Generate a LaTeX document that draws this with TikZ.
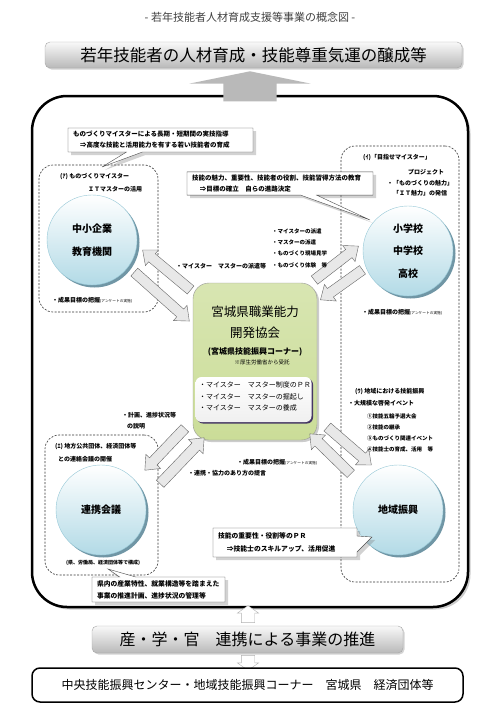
\documentclass[tikz,border=0pt]{standalone}
\usepackage{fontspec}
\setmainfont{Noto Sans CJK JP}
\usetikzlibrary{calc}
\usetikzlibrary{shapes.arrows}
\usetikzlibrary{shapes.callouts}
\usetikzlibrary{shadows}
\usetikzlibrary{positioning}

\definecolor{kyokaigreen}{RGB}{203,221,152}
\definecolor{circblue}{RGB}{178,218,230}
\definecolor{circedge}{RGB}{150,200,215}
\definecolor{circshade}{RGB}{112,150,165}
\definecolor{innerrim}{RGB}{70,55,100}

\begin{document}
\begin{tikzpicture}[x=1pt,y=-1pt,
    bar/.style={draw=gray!70, rounded corners=5pt, top color=gray!5, bottom color=gray!55, inner sep=0, drop shadow={shadow xshift=1.5pt, shadow yshift=-1.5pt, opacity=.35}},
    circ/.style={circle, minimum size=90pt, inner sep=0, draw=circedge, top color=white, bottom color=circblue, align=center, font=\bfseries\fontsize{10}{22.5}\selectfont, drop shadow={shadow xshift=2.5pt, shadow yshift=-2.5pt, fill=circshade, opacity=1}},
    note/.style={rectangle callout, draw=black!70, fill=white, align=left, inner xsep=5pt, inner ysep=3pt, callout pointer width=16pt, font=\bfseries\fontsize{6.5}{11}\selectfont, drop shadow={shadow xshift=3pt, shadow yshift=-3pt, opacity=.35}}]
    \tikzset{zone/.style={draw=black!80, dash pattern=on 2pt off 1.5pt, rounded corners=14pt, line width=.6pt, inner sep=0}}
    \tikzset{lbl/.style={anchor=west, inner sep=0, font=\bfseries\fontsize{6}{7}\selectfont}}
    \tikzset{fat/.style={single arrow, draw=black!60, fill=gray!18, inner xsep=0, inner ysep=5pt, single arrow head extend=5pt, single arrow tip angle=80},
    hollow/.style={single arrow, draw=gray!60, fill=white, inner xsep=0, inner ysep=6.5pt, single arrow head extend=4pt, single arrow tip angle=110}}
    \def\fatarrow#1#2#3{\path let \p1=($(#3)-(#2)$), \n1={atan2(\y1,\x1)}, \n2={veclen(\x1,\y1)} in node[fat, minimum height=\n2, rotate=\n1] (#1) at ($(#2)!0.5!(#3)$) {};}
    \def\survey{・成果目標の把握{\mdseries\fontsize{3.7}{4}\selectfont (アンケートの実施)}}
    \useasboundingbox (0,0) rectangle (500,707);

    \node[text=black!75, font=\fontsize{11}{12}\selectfont] (title) at (250,17) {- 若年技能者人材育成支援等事業の概念図 -};
    \node[bar, minimum width=417pt, minimum height=26pt, font=\fontsize{16.5}{18}\selectfont] (goal) at (253.5,55) {若年技能者の人材育成・技能尊重気運の醸成等};

    % big frame
    \node[draw, line width=2.5pt, rounded corners=35pt, fill=white, minimum width=436pt, minimum height=511pt, drop shadow={shadow xshift=2.5pt, shadow yshift=-2.5pt, opacity=.4}] (frame) at (250,351.5) {};
    \node[single arrow, rotate=90, fill=gray!55, inner xsep=0, inner ysep=26.5pt, single arrow head extend=34pt, single arrow tip angle=157, minimum height=30pt] (rise) at (250,89) {};

    \node[zone, minimum width=119pt, minimum height=147pt] (zoneA) at (98.5,238.5) {};
    \node[zone, minimum width=118pt, minimum height=436pt] (zoneB) at (400,364) {};
    \node[zone, minimum width=113pt, minimum height=140pt] (zoneC) at (101.5,505) {};

    \node[circ] (kigyo) at (92,240) {中小企業\\教育機関};
    \node[circ] (gakko) at (408,251) {小学校\\中学校\\高校};
    \node[circ] (renkei) at (101,510) {連携会議};
    \node[circ] (chiiki) at (398,510) {地域振興};

    % center
    \node[rectangle, rounded corners=16pt, draw=black!40, top color=kyokaigreen!75, bottom color=kyokaigreen, minimum width=124pt, minimum height=157pt, drop shadow={shadow xshift=2pt, shadow yshift=-2pt, opacity=.4}] (kyokai) at (255,361.5) {};
    \node[font=\fontsize{12.5}{14}\selectfont] (kname1) at (255,312) {宮城県職業能力};
    \node[font=\fontsize{12.5}{14}\selectfont] (kname2) at (255,333) {開発協会};
    \node[font=\bfseries\fontsize{8}{9}\selectfont] (kname3) at (255,352) {(宮城県技能振興コーナー)};
    \node[font=\fontsize{5.5}{6}\selectfont] (kname4) at (262,362) {※厚生労働省から受託};
    \node[rectangle, rounded corners=6pt, top color=white, bottom color=gray!12, minimum width=116pt, minimum height=45pt, drop shadow={shadow xshift=1.5pt, shadow yshift=-1.5pt, fill=innerrim, opacity=1}] (tasks) at (253.5,399.5) {};
    \node[anchor=west, inner sep=0, align=left, font=\fontsize{7}{11.5}\selectfont] (tasklist) at (199,396.5) {・マイスター　マスター制度のＰＲ\\・マイスター　マスターの掘起し\\・マイスター　マスターの養成};

    % arrows
    \coordinate (a1s) at (193,292); \coordinate (a1e) at (145,252);
    \coordinate (a2s) at (132,270); \coordinate (a2e) at (187,319);
    \coordinate (b1s) at (312,282); \coordinate (b1e) at (356,248);
    \coordinate (b2s) at (365,268); \coordinate (b2e) at (323,298);
    \coordinate (c1s) at (325,425); \coordinate (c1e) at (369,463);
    \coordinate (c2s) at (353,476); \coordinate (c2e) at (312,436);
    \coordinate (d1s) at (187,426); \coordinate (d1e) at (147,468);
    \coordinate (d2s) at (158,486); \coordinate (d2e) at (202,440);
    \fatarrow{toKigyo}{a1s}{a1e}
    \fatarrow{fromKigyo}{a2s}{a2e}
    \fatarrow{toGakko}{b1s}{b1e}
    \fatarrow{fromGakko}{b2s}{b2e}
    \fatarrow{toChiiki}{c1s}{c1e}
    \fatarrow{fromChiiki}{c2s}{c2e}
    \fatarrow{toRenkei}{d1s}{d1e}
    \fatarrow{fromRenkei}{d2s}{d2e}

    % texts
    \node[lbl] (aHead) at (60,177) {(ｱ) ものづくりマイスター};
    \node[lbl] (aHead2) at (88,189) {ＩＴマスターの活用};
    \node[lbl] (aGoal) at (52,300) {\survey};
    \node[lbl] (dispatch) at (176,266) {・マイスター　マスターの派遣等};
    \node[lbl, align=left, font=\bfseries\fontsize{5.5}{11.3}\selectfont] (visit) at (272,248) {・マイスターの派遣\\・マスターの派遣\\・ものづくり現場見学\\・ものづくり体験　等};
    \node[lbl] (bHead) at (363,158) {(ｲ)「目指せマイスター」};
    \node[lbl] (bHead2) at (408,172) {プロジェクト};
    \node[lbl] (bHead3) at (387,183) {・「ものづくりの魅力」};
    \node[lbl] (bHead4) at (393,193) {「ＩＴ魅力」の発信};
    \node[lbl] (bGoal) at (362,312) {\survey};
    \node[lbl] (cHead) at (355,392) {(ｳ) 地域における技能振興};
    \node[lbl] (cHead2) at (348,403) {・大規模な啓発イベント};
    \node[lbl, align=left, font=\bfseries\fontsize{5.5}{11}\selectfont] (events) at (367,432.5) {①技能五輪予選大会\\②技能の継承\\③ものづくり関連イベント\\④技能士の育成、活用　等};
    \node[lbl] (plan) at (122,415) {・計画、進捗状況等};
    \node[lbl] (plan2) at (127,426) {の説明};
    \node[lbl] (dHead) at (55,447) {(ｴ) 地方公共団体、経済団体等};
    \node[lbl] (dHead2) at (58,459) {との連絡会議の開催};
    \node[lbl] (dGoal) at (237,462) {\survey};
    \node[lbl] (advice) at (188,473) {・連携・協力のあり方の提言};
    \node[font=\bfseries\fontsize{5}{6}\selectfont, inner sep=0] (members) at (103,563) {(県、労働局、経済団体等で構成)};

    % callouts
    \coordinate (tipA) at (102,167);
    \coordinate (tipB) at (370,220);
    \coordinate (tipC) at (372,537);
    \coordinate (tipD) at (108,569);
    \node[note, text width=175pt, minimum height=24pt, callout absolute pointer={(tipA)}] (noteA) at (160.5,140) {ものづくりマイスターによる長期・短期間の実技指導\\\hspace*{1.1em}⇒高度な技能と活用能力を有する若い技能者の育成};
    \node[note, text width=176pt, minimum height=23pt, callout absolute pointer={(tipB)}] (noteB) at (280,183.5) {技能の魅力、重要性、技能者の役割、技能習得方法の教育\\\hspace*{1.2em}⇒目標の確立　自らの進路決定};
    \node[note, text width=134pt, minimum height=29pt, font=\bfseries\fontsize{6.8}{13}\selectfont, callout absolute pointer={(tipC)}] (noteC) at (285,542.5) {技能の重要性・役割等のＰＲ\\\hspace*{1.3em}⇒技能士のスキルアップ、活用促進};
    \node[note, text width=123pt, minimum height=25pt, font=\bfseries\fontsize{6.8}{12}\selectfont, callout absolute pointer={(tipD)}] (noteD) at (158.5,589.5) {県内の産業特性、就業構造等を踏まえた\\事業の推進計画、進捗状況の管理等};

    % bottom
    \node[hollow, rotate=90, minimum height=17pt] (upA) at (248,616.5) {};
    \node[bar, minimum width=311pt, minimum height=27pt, font=\fontsize{16}{18}\selectfont] (sangaku) at (247.5,639.5) {産・学・官　連携による事業の推進};
    \node[hollow, rotate=-90, minimum height=15pt] (downA) at (248,660.5) {};
    \node[draw, line width=1.5pt, rounded corners=8pt, fill=white, minimum width=431pt, minimum height=34pt, font=\fontsize{12}{14}\selectfont] (partners) at (247.5,685) {中央技能振興センター・地域技能振興コーナー　宮城県　経済団体等};
\end{tikzpicture}
\end{document}
